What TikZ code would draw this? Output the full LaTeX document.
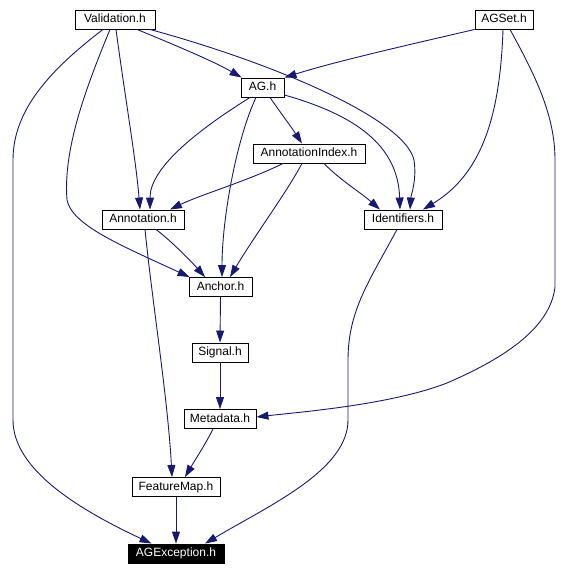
\documentclass[tikz,border=0pt]{standalone}
\usepackage{fontspec}
\setmainfont{Liberation Sans}
\usetikzlibrary{arrows.meta}
\definecolor{edgeblue}{HTML}{191970}
\begin{document}
\begin{tikzpicture}[x=1pt,y=-1pt,
  hdr/.style={draw=black, line width=0.9pt, fill=white, font=\fontsize{12}{14}\selectfont,
    minimum height=19pt, inner sep=0pt, text height=9pt, text depth=2.5pt},
  dep/.style={draw=edgeblue, line width=0.9pt, -{Triangle[length=12pt,width=8pt]}}
]
\useasboundingbox (0,0) rectangle (570,575);
\node[hdr, minimum width=80pt] (val) at (115,19.5) {Validation.h};
\node[hdr, minimum width=58pt] (agset) at (504,19.5) {AGSet.h};
\node[hdr, minimum width=43pt] (ag) at (262.5,87.5) {AG.h};
\node[hdr, minimum width=112pt] (aidx) at (309,153.5) {AnnotationIndex.h};
\node[hdr, minimum width=78pt] (ids) at (403,219.5) {Identifiers.h};
\node[hdr, minimum width=82pt] (ann) at (143,219.5) {Annotation.h};
\node[hdr, minimum width=63pt] (anc) at (220.5,287) {Anchor.h};
\node[hdr, minimum width=56pt] (sig) at (220,352.5) {Signal.h};
\node[hdr, minimum width=72pt] (meta) at (220,419) {Metadata.h};
\node[hdr, minimum width=88pt] (fm) at (176,487) {FeatureMap.h};
\node[hdr, minimum width=96pt, fill=black, text=white] (agx) at (176,553.5) {AGException.h};

% Validation.h
\draw[dep] ([xshift=22pt]val.south) .. controls (175,45) and (215,62) .. ([xshift=1pt]ag.north west);
\draw[dep] ([xshift=35pt]val.south) .. controls (280,65) and (405,120) .. (414,160)
  .. controls (417,180) and (411,195) .. ([xshift=7pt]ids.north);
\draw[dep] ([xshift=1pt]val.south) .. controls (124,90) and (136,160) .. ([xshift=-3pt]ann.north);
\draw[dep] ([xshift=-5pt]val.south) .. controls (85,90) and (63,150) .. (67,200)
  .. controls (72,225) and (120,245) .. ([xshift=1pt]anc.north west);
\draw[dep] ([xshift=-12pt]val.south) .. controls (50,70) and (13,110) .. (13,160) -- (13,420)
  .. controls (13,470) and (80,510) .. ([xshift=24pt]agx.north west);
% AGSet.h
\draw[dep] (agset.south west) .. controls (430,40) and (340,60) .. (ag.north east);
\draw[dep] ([xshift=-1pt]agset.south) .. controls (500,120) and (480,175) .. ([xshift=20pt]ids.north);
\draw[dep] ([xshift=6pt]agset.south) .. controls (535,75) and (555,115) .. (555,160) -- (555,287)
  .. controls (550,330) and (500,360) .. (447,383)
  .. controls (390,405) and (300,412) .. ([yshift=2pt]meta.east);
% AG.h
\draw[dep] ([xshift=7.5pt]ag.south) .. controls (280,112) and (292,128) .. ([xshift=-7pt]aidx.north);
\draw[dep] ([xshift=-12.5pt]ag.south) .. controls (190,135) and (150,170) .. ([xshift=7pt]ann.north);
\draw[dep] ([xshift=-6.5pt]ag.south) .. controls (236,140) and (222,220) .. ([xshift=1.5pt]anc.north);
\draw[dep] ([yshift=-7.5pt]ag.east) .. controls (355,115) and (398,145) .. ([xshift=-3pt]ids.north);
% AnnotationIndex.h
\draw[dep] ([xshift=-26pt]aidx.south) .. controls (250,180) and (200,195) .. ([xshift=27pt]ann.north);
\draw[dep] ([xshift=-7pt]aidx.south) .. controls (285,195) and (255,235) .. ([xshift=9.5pt]anc.north);
\draw[dep] ([xshift=15pt]aidx.south) .. controls (340,180) and (360,192) .. ([xshift=-23pt]ids.north);
% Annotation.h
\draw[dep] ([xshift=13pt]ann.south) .. controls (170,240) and (190,260) .. ([xshift=-15.5pt]anc.north);
\draw[dep] ([xshift=2pt]ann.south) .. controls (152,300) and (168,400) .. ([xshift=-4pt]fm.north);
% chain
\draw[dep] (anc.south) -- (sig.north);
\draw[dep] (sig.south) -- (meta.north);
\draw[dep] ([xshift=-7pt]meta.south) .. controls (205,445) and (195,460) .. ([xshift=9pt]fm.north);
\draw[dep] (fm.south) -- (agx.north);
% Identifiers.h
\draw[dep] ([xshift=-6pt]ids.south) .. controls (370,280) and (348,310) .. (348,360) -- (348,420)
  .. controls (348,470) and (270,505) .. ([xshift=29pt]agx.north);
\end{tikzpicture}
\end{document}
